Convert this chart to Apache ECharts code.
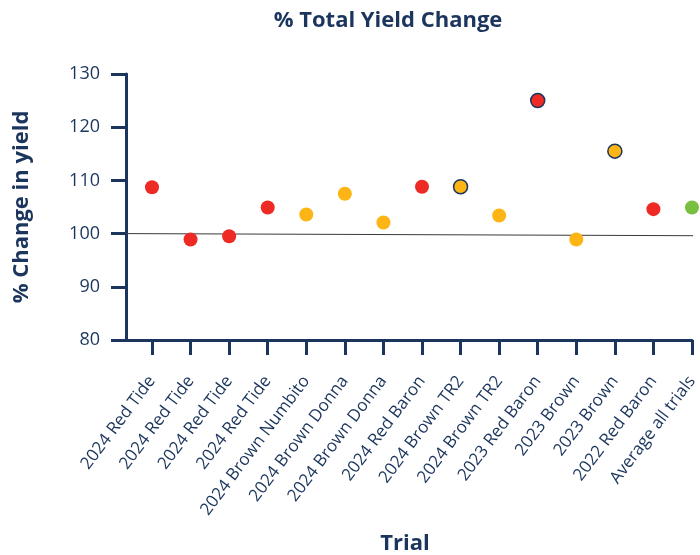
<!DOCTYPE html>
<html>
<head>
<meta charset="utf-8">
<script src="https://cdn.jsdelivr.net/npm/echarts@6/dist/echarts.min.js"></script>
<style>
  html, body { margin: 0; padding: 0; background: #ffffff; }
  #chart { width: 700px; height: 555px; }
</style>
</head>
<body>
<div id="chart"></div>
<script>
// Trials along the x axis
const trials = [
  '2024 Red Tide', '2024 Red Tide', '2024 Red Tide', '2024 Red Tide',
  '2024 Brown Numbito', '2024 Brown Donna', '2024 Brown Donna',
  '2024 Red Baron', '2024 Brown TR2', '2024 Brown TR2',
  '2023 Red Baron', '2023 Brown', '2023 Brown', '2022 Red Baron',
  'Average all trials'
];
// % change in yield per trial
const yieldChange = [108.7, 98.9, 99.5, 104.9, 103.6, 107.5, 102.1,
                     108.8, 108.8, 103.4, 125.0, 98.9, 115.5, 104.6, 104.9];
// Colour group per trial: red, yellow (brown onion), green (average)
const group = ['red', 'red', 'red', 'red', 'yellow', 'yellow', 'yellow',
               'red', 'yellow', 'yellow', 'red', 'yellow', 'yellow', 'red', 'green'];
// Trials drawn with an outlined marker
const outlined = [false, false, false, false, false, false, false,
                  false, true, false, true, false, true, false, false];
// Reference line: value at left and right end of the plot
const baselineStart = 100;
const baselineEnd = 99.6;
// y axis range
const yMin = 80, yMax = 130, yStep = 10;

const navy = '#1b355d';
const palette = { red: '#ee2a24', yellow: '#fdb515', green: '#79bf40' };
const fontFamily = '"Open Sans", sans-serif';

const xMin = -0.674;
const xMax = trials.length - 1;
const idx = trials.map((_, i) => i);

const points = yieldChange.map((v, i) => ({
  value: [i, v],
  itemStyle: {
    color: palette[group[i]],
    opacity: 1,
    borderColor: outlined[i] ? navy : 'transparent',
    borderWidth: outlined[i] ? 1.5 : 0
  }
}));

const boldText = { color: navy, fontSize: 22, fontWeight: 'bold', fontFamily };

const chart = echarts.init(document.getElementById('chart'), null, { renderer: 'canvas' });
chart.setOption({
  animation: false,
  backgroundColor: '#ffffff',
  title: [
    { text: '% Total Yield Change', left: 383, top: 5, textAlign: 'center', textStyle: boldText },
    // x axis title
    { text: 'Trial', left: 400, top: 528, textAlign: 'center', textStyle: boldText }
  ],
  grid: { left: 126, right: 8, top: 74, bottom: 215, containLabel: false, outerBoundsMode: 'none' },
  xAxis: {
    type: 'value',
    min: xMin,
    max: xMax,
    splitLine: { show: false },
    axisLine: { show: true, onZero: false, lineStyle: { color: navy, width: 3 } },
    axisTick: { show: true, customValues: idx, length: 15, lineStyle: { color: navy, width: 3 } },
    axisLabel: {
      customValues: idx,
      formatter: v => trials[Math.round(v)],
      rotate: 53,
      margin: 38,
      color: navy,
      fontSize: 17,
      fontFamily
    }
  },
  yAxis: {
    type: 'value',
    min: yMin,
    max: yMax,
    interval: yStep,
    name: '% Change in yield',
    nameLocation: 'middle',
    nameGap: 93,
    nameRotate: 90,
    nameTextStyle: boldText,
    splitLine: { show: false },
    axisLine: { show: true, onZero: false, lineStyle: { color: navy, width: 3 } },
    axisTick: { show: true, length: 15, lineStyle: { color: navy, width: 3 } },
    axisLabel: { margin: 26, color: navy, fontSize: 18, fontFamily }
  },
  series: [
    {
      type: 'line',
      data: [[xMin, baselineStart], [xMax + 0.13, baselineEnd]],
      symbol: 'none',
      clip: false,
      silent: true,
      lineStyle: { color: '#3a3a3a', width: 1 },
      z: 1
    },
    {
      type: 'scatter',
      data: points,
      symbolSize: 14,
      clip: false,
      itemStyle: { opacity: 1 },
      z: 3
    }
  ]
});
</script>
</body>
</html>
